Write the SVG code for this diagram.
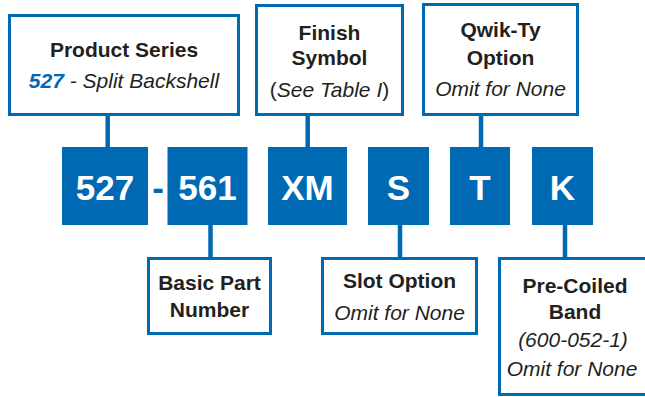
<svg xmlns="http://www.w3.org/2000/svg" width="645" height="397" viewBox="0 0 645 397">
<style>
.lbl{fill:#fff;stroke:#0069b4;stroke-width:3}
.code{fill:#0069b4}
.b{font-family:"Liberation Sans",Arial,sans-serif;font-weight:bold;font-size:21px;fill:#231f20;text-anchor:middle}
.i{font-family:"Liberation Sans",Arial,sans-serif;font-style:italic;font-size:21px;fill:#231f20;text-anchor:middle}
.c{font-family:"Liberation Sans",Arial,sans-serif;font-weight:bold;font-size:35px;fill:#fff;text-anchor:middle}
.conn{stroke:#0069b4;stroke-width:4.5;fill:none}
</style>
<rect width="645" height="397" fill="#fff"/>
<g id="connectors">
<line class="conn" x1="107.7" y1="115" x2="107.7" y2="148"/>
<line class="conn" x1="307.7" y1="115" x2="307.7" y2="148"/>
<line class="conn" x1="481" y1="115" x2="481" y2="148"/>
<line class="conn" x1="210.5" y1="224" x2="210.5" y2="258"/>
<line class="conn" x1="400" y1="224" x2="400" y2="258"/>
<line class="conn" x1="565" y1="224" x2="565" y2="258"/>
</g>
<g id="product-series">
<rect class="lbl" x="9.5" y="15.5" width="229" height="99"/>
<text class="b" x="124" y="56.5">Product Series</text>
<text class="i" x="124" y="88"><tspan fill="#0069b4" font-weight="bold">527</tspan> - Split Backshell</text>
</g>
<g id="finish-symbol">
<rect class="lbl" x="256.5" y="5.5" width="146" height="109"/>
<text class="b" x="329.5" y="40">Finish</text>
<text class="b" x="329.5" y="65">Symbol</text>
<text class="i" x="329.5" y="96.5"><tspan font-style="normal">(</tspan>See Table I<tspan font-style="normal">)</tspan></text>
</g>
<g id="qwik-ty">
<rect class="lbl" x="423.5" y="4.5" width="154" height="110"/>
<text class="b" x="500.5" y="36.5">Qwik-Ty</text>
<text class="b" x="500.5" y="65">Option</text>
<text class="i" x="500.5" y="96">Omit for None</text>
</g>
<g id="code-527">
<rect class="code" x="62" y="147" width="86" height="78"/>
<text class="c" x="105" y="200">527</text>
</g>
<g id="dash">
<text class="c" x="158" y="200" style="fill:#0069b4">-</text>
</g>
<g id="code-561">
<rect class="code" x="167.5" y="147" width="80" height="78"/>
<text class="c" x="207.5" y="200">561</text>
</g>
<g id="code-xm">
<rect class="code" x="268" y="147" width="79" height="78"/>
<text class="c" x="307.5" y="200">XM</text>
</g>
<g id="code-s">
<rect class="code" x="368" y="147" width="61" height="78"/>
<text class="c" x="398.5" y="200">S</text>
</g>
<g id="code-t">
<rect class="code" x="450" y="147" width="60" height="78"/>
<text class="c" x="480" y="200">T</text>
</g>
<g id="code-k">
<rect class="code" x="532" y="147" width="61" height="78"/>
<text class="c" x="562.5" y="200">K</text>
</g>
<g id="basic-part">
<rect class="lbl" x="148.5" y="258.5" width="122" height="75"/>
<text class="b" x="209.5" y="290">Basic Part</text>
<text class="b" x="209.5" y="316.5">Number</text>
</g>
<g id="slot-option">
<rect class="lbl" x="322.5" y="258.5" width="154" height="75"/>
<text class="b" x="399.5" y="287.5">Slot Option</text>
<text class="i" x="399.5" y="319.5">Omit for None</text>
</g>
<g id="pre-coiled">
<rect class="lbl" x="499.5" y="258.5" width="152" height="136"/>
<text class="b" x="575" y="293">Pre-Coiled</text>
<text class="b" x="575" y="318.5">Band</text>
<text class="i" x="573" y="347">(600-052-1)</text>
<text class="i" x="572" y="375.5">Omit for None</text>
</g>
</svg>
